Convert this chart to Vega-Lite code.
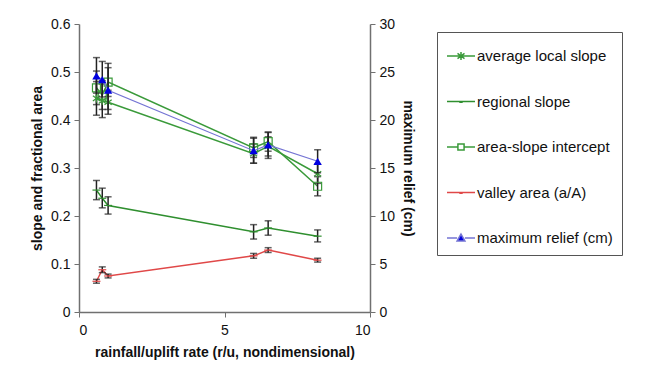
{
  "$schema": "https://vega.github.io/schema/vega-lite/v6.json",
  "width": 291,
  "height": 288,
  "autosize": {"type": "none"},
  "padding": {"left": 79, "top": 24, "right": 280, "bottom": 66},
  "background": "white",
  "config": {
    "view": {"stroke": null},
    "font": "Liberation Sans",
    "axis": {"grid": false, "domainColor": "#707070", "tickColor": "#707070", "labelFont": "Liberation Sans", "labelFontSize": 14, "labelColor": "#111", "titleFont": "Liberation Sans", "titleFontSize": 14, "titleFontWeight": "bold", "titleColor": "#111", "tickSize": 5, "domainWidth": 1.5}
  },
  "datasets": {
    "slopes": [
      {"r": 0.6, "series": "average local slope", "v": 0.445, "lo": 0.41, "hi": 0.48},
      {"r": 0.8, "series": "average local slope", "v": 0.44, "lo": 0.405, "hi": 0.475},
      {"r": 1.0, "series": "average local slope", "v": 0.437, "lo": 0.412, "hi": 0.462},
      {"r": 6.0, "series": "average local slope", "v": 0.33, "lo": 0.31, "hi": 0.35},
      {"r": 6.5, "series": "average local slope", "v": 0.345, "lo": 0.325, "hi": 0.365},
      {"r": 8.2, "series": "average local slope", "v": 0.288, "lo": 0.268, "hi": 0.308},
      {"r": 0.6, "series": "regional slope", "v": 0.254, "lo": 0.234, "hi": 0.274},
      {"r": 0.8, "series": "regional slope", "v": 0.237, "lo": 0.217, "hi": 0.258},
      {"r": 1.0, "series": "regional slope", "v": 0.222, "lo": 0.204, "hi": 0.24},
      {"r": 6.0, "series": "regional slope", "v": 0.167, "lo": 0.152, "hi": 0.182},
      {"r": 6.5, "series": "regional slope", "v": 0.175, "lo": 0.16, "hi": 0.19},
      {"r": 8.2, "series": "regional slope", "v": 0.158, "lo": 0.146, "hi": 0.171},
      {"r": 0.6, "series": "area-slope intercept", "v": 0.467, "lo": 0.432, "hi": 0.502},
      {"r": 0.8, "series": "area-slope intercept", "v": 0.452, "lo": 0.422, "hi": 0.482},
      {"r": 1.0, "series": "area-slope intercept", "v": 0.479, "lo": 0.449, "hi": 0.509},
      {"r": 6.0, "series": "area-slope intercept", "v": 0.342, "lo": 0.322, "hi": 0.362},
      {"r": 6.5, "series": "area-slope intercept", "v": 0.355, "lo": 0.335, "hi": 0.375},
      {"r": 8.2, "series": "area-slope intercept", "v": 0.262, "lo": 0.242, "hi": 0.282},
      {"r": 0.6, "series": "valley area (a/A)", "v": 0.064, "lo": 0.06, "hi": 0.068},
      {"r": 0.8, "series": "valley area (a/A)", "v": 0.088, "lo": 0.082, "hi": 0.094},
      {"r": 1.0, "series": "valley area (a/A)", "v": 0.075, "lo": 0.071, "hi": 0.079},
      {"r": 6.0, "series": "valley area (a/A)", "v": 0.117, "lo": 0.112, "hi": 0.122},
      {"r": 6.5, "series": "valley area (a/A)", "v": 0.129, "lo": 0.124, "hi": 0.134},
      {"r": 8.2, "series": "valley area (a/A)", "v": 0.108, "lo": 0.104, "hi": 0.112}
    ],
    "relief": [
      {"r": 0.6, "series": "maximum relief (cm)", "v": 24.6, "lo": 22.8, "hi": 26.5},
      {"r": 0.8, "series": "maximum relief (cm)", "v": 24.2, "lo": 22.4, "hi": 26.1},
      {"r": 1.0, "series": "maximum relief (cm)", "v": 23.1, "lo": 21.1, "hi": 25.9},
      {"r": 6.0, "series": "maximum relief (cm)", "v": 16.8, "lo": 15.5, "hi": 18.2},
      {"r": 6.5, "series": "maximum relief (cm)", "v": 17.4, "lo": 16.0, "hi": 18.7},
      {"r": 8.2, "series": "maximum relief (cm)", "v": 15.7, "lo": 14.5, "hi": 16.9}
    ]
  },
  "encoding": {
    "x": {"field": "r", "type": "quantitative", "scale": {"domain": [0, 10]}, "axis": {"values": [0, 5, 10], "title": "rainfall/uplift rate (r/u, nondimensional)", "titlePadding": 8, "labelPadding": 6}}
  },
  "layer": [
    {
      "data": {"name": "slopes"},
      "encoding": {
        "y": {"field": "v", "type": "quantitative", "scale": {"domain": [0, 0.6]}, "axis": {"values": [0, 0.1, 0.2, 0.3, 0.4, 0.5, 0.6], "format": "~f", "title": "slope and fractional area", "titlePadding": 6, "labelPadding": 4}}
      },
      "layer": [
        {
          "mark": {"type": "line", "strokeWidth": 1.5},
          "encoding": {
            "color": {"field": "series", "type": "nominal", "scale": {"domain": ["average local slope", "regional slope", "area-slope intercept", "valley area (a/A)", "maximum relief (cm)"], "range": ["#3a9a3a", "#2f8f2f", "#3a9a3a", "#e04848", "#7474d4"]},
              "legend": {"orient": "none", "legendX": 358, "legendY": 8, "title": null, "padding": 9, "rowPadding": 22.5, "symbolSize": 784, "symbolStrokeWidth": 1.5, "labelFontSize": 15, "labelFont": "Liberation Sans", "labelColor": "#111", "labelOffset": 1, "labelLimit": 300, "strokeColor": "#555", "fillColor": "white", "symbolType": "M-1,0H1",
                "encode": {"symbols": {"update": {
                  "shape": {"signal": "datum.value === 'average local slope' ? 'M-1,0H1M0,-0.28V0.28M-0.25,-0.18L0.25,0.18M-0.25,0.18L0.25,-0.18' : datum.value === 'area-slope intercept' ? 'M-1,0H-0.22M0.22,0H1M-0.22,-0.22H0.22V0.22H-0.22Z' : datum.value === 'maximum relief (cm)' ? 'M-1,0H-0.28M0.28,0H1M0,-0.28L0.28,0.22H-0.28Z' : 'M-1,0H1M-0.12,0.06H0.12'"},
                  "fill": {"signal": "datum.value === 'maximum relief (cm)' ? '#0000e0' : 'transparent'"},
                  "fillOpacity": {"value": 1}
                }}}
              }}
          }
        },
        {"mark": {"type": "rule", "color": "#222", "strokeWidth": 1.5}, "encoding": {"y": {"field": "lo", "type": "quantitative"}, "y2": {"field": "hi"}}},
        {"mark": {"type": "tick", "orient": "horizontal", "color": "#222", "size": 7, "thickness": 1.5}, "encoding": {"y": {"field": "lo", "type": "quantitative"}}},
        {"mark": {"type": "tick", "orient": "horizontal", "color": "#222", "size": 7, "thickness": 1.5}, "encoding": {"y": {"field": "hi", "type": "quantitative"}}},
        {
          "mark": {"type": "point", "filled": false, "strokeWidth": 1.2, "opacity": 1},
          "encoding": {
            "color": {"field": "series", "type": "nominal", "legend": null},
            "shape": {"field": "series", "type": "nominal", "legend": null, "scale": {"domain": ["average local slope", "regional slope", "area-slope intercept", "valley area (a/A)"], "range": ["M0,-1V1M-0.9,-0.65L0.9,0.65M-0.9,0.65L0.9,-0.65", "M-1,0H1", "square", "M-1,0H1"]}},
            "size": {"value": 64}
          }
        }
      ]
    },
    {
      "data": {"name": "relief"},
      "encoding": {
        "y": {"field": "v", "type": "quantitative", "scale": {"domain": [0, 30]}, "axis": {"orient": "right", "values": [0, 5, 10, 15, 20, 25, 30], "title": "maximum relief (cm)", "titlePadding": 6, "labelPadding": 4}}
      },
      "layer": [
        {"mark": {"type": "line", "strokeWidth": 1.2}, "encoding": {"color": {"field": "series", "type": "nominal", "legend": null}}},
        {"mark": {"type": "rule", "color": "#222", "strokeWidth": 1.5}, "encoding": {"y": {"field": "lo", "type": "quantitative"}, "y2": {"field": "hi"}}},
        {"mark": {"type": "tick", "orient": "horizontal", "color": "#222", "size": 7, "thickness": 1.5}, "encoding": {"y": {"field": "lo", "type": "quantitative"}}},
        {"mark": {"type": "tick", "orient": "horizontal", "color": "#222", "size": 7, "thickness": 1.5}, "encoding": {"y": {"field": "hi", "type": "quantitative"}}},
        {"mark": {"type": "point", "filled": true, "shape": "triangle-up", "size": 70, "color": "#0000e0", "opacity": 1}}
      ]
    }
  ],
  "resolve": {"scale": {"y": "independent"}}
}
